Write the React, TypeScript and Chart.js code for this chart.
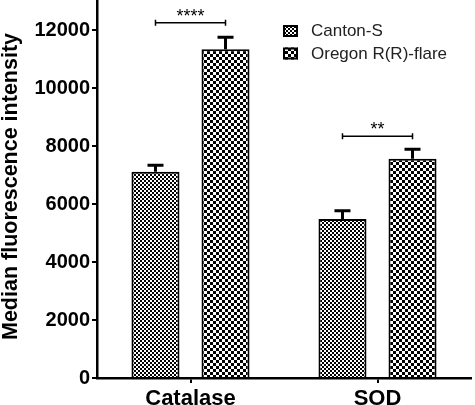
import React, { useEffect, useRef } from "react";
import { Chart, registerables } from "chart.js";

Chart.register(...registerables);

const categories = ["Catalase", "SOD"];
const seriesLabels = ["Canton-S", "Oregon R(R)-flare"];
const cantonValues = [7110, 5480];
const cantonErrors = [230, 290];
const oregonValues = [11340, 7560];
const oregonErrors = [410, 330];
const yTicks = [0, 2000, 4000, 6000, 8000, 10000, 12000];
const yTitle = "Median fluorescence intensity";
const sigLabels = ["****", "**"];
const sigLevels = [12250, 8340];

const FONT = "'Liberation Sans', Arial, Helvetica, sans-serif";

function makeChecker(cell: number): CanvasPattern | string {
  const c = document.createElement("canvas");
  c.width = cell * 2;
  c.height = cell * 2;
  const g = c.getContext("2d");
  if (!g) return "#888";
  g.fillStyle = "#ffffff";
  g.fillRect(0, 0, cell * 2, cell * 2);
  g.fillStyle = "#000000";
  g.fillRect(0, 0, cell, cell);
  g.fillRect(cell, cell, cell, cell);
  const p = g.createPattern(c, "repeat");
  return p || "#888";
}

export default function App() {
  const ref = useRef<HTMLCanvasElement | null>(null);

  useEffect(() => {
    const canvas = ref.current;
    if (!canvas) return;
    const fine = makeChecker(2);
    const coarse = makeChecker(3);
    const errors = [cantonErrors, oregonErrors];

    const overlay = {
      id: "overlay",
      afterDatasetsDraw(chart: any) {
        const ctx = chart.ctx;
        const y = chart.scales.y;
        ctx.save();
        // y title
        ctx.save();
        ctx.translate(11, 186.5);
        ctx.rotate(-Math.PI / 2);
        ctx.font = `bold 21.5px ${FONT}`;
        ctx.fillStyle = "#000";
        ctx.textAlign = "center";
        ctx.textBaseline = "middle";
        ctx.fillText(yTitle, 0, 0);
        ctx.restore();
        // error bars
        ctx.strokeStyle = "#000";
        ctx.lineWidth = 3;
        chart.data.datasets.forEach((ds: any, i: number) => {
          const meta = chart.getDatasetMeta(i);
          meta.data.forEach((bar: any, j: number) => {
            const v = ds.data[j];
            const top = y.getPixelForValue(v + errors[i][j]);
            ctx.beginPath();
            ctx.moveTo(bar.x, bar.y);
            ctx.lineTo(bar.x, top);
            ctx.moveTo(bar.x - 8, top);
            ctx.lineTo(bar.x + 8, top);
            ctx.stroke();
          });
        });
        // significance brackets
        ctx.lineWidth = 1.5;
        ctx.fillStyle = "#000";
        ctx.font = `18px ${FONT}`;
        ctx.textAlign = "center";
        ctx.textBaseline = "alphabetic";
        categories.forEach((_c, j) => {
          const a = chart.getDatasetMeta(0).data[j];
          const b = chart.getDatasetMeta(1).data[j];
          const py = y.getPixelForValue(sigLevels[j]);
          ctx.beginPath();
          ctx.moveTo(a.x, py);
          ctx.lineTo(b.x, py);
          ctx.moveTo(a.x, py - 3);
          ctx.lineTo(a.x, py + 3);
          ctx.moveTo(b.x, py - 3);
          ctx.lineTo(b.x, py + 3);
          ctx.stroke();
          ctx.fillText(sigLabels[j], (a.x + b.x) / 2, py - 1);
        });
        // legend
        const fills = [fine, coarse];
        ctx.font = `17px ${FONT}`;
        ctx.textAlign = "left";
        ctx.textBaseline = "middle";
        seriesLabels.forEach((lab, i) => {
          const by = 25 + i * 22.5;
          ctx.fillStyle = fills[i] as any;
          ctx.fillRect(283, by, 15, 12);
          ctx.lineWidth = 2;
          ctx.strokeStyle = "#000";
          ctx.strokeRect(284, by + 1, 13, 10);
          ctx.fillStyle = "#222";
          ctx.fillText(lab, 311, by + 6.5);
        });
        ctx.restore();
      },
    };

    const chart = new Chart(canvas, {
      type: "bar",
      data: {
        labels: categories,
        datasets: [
          {
            label: seriesLabels[0],
            data: cantonValues,
            backgroundColor: fine as any,
            borderColor: "#000",
            borderWidth: 2,
            borderSkipped: "bottom",
            categoryPercentage: 0.749,
            barPercentage: 0.686,
          },
          {
            label: seriesLabels[1],
            data: oregonValues,
            backgroundColor: coarse as any,
            borderColor: "#000",
            borderWidth: 2,
            borderSkipped: "bottom",
            categoryPercentage: 0.749,
            barPercentage: 0.686,
          },
        ],
      },
      options: {
        responsive: false,
        animation: false,
        layout: { padding: { top: 1, right: 4, left: 0, bottom: 0 } },
        plugins: {
          legend: { display: false },
          tooltip: { enabled: false },
        },
        scales: {
          x: {
            type: "category",
            offset: true,
            grid: {
              display: true,
              drawOnChartArea: false,
              drawTicks: true,
              tickLength: 5,
              offset: false,
              color: "#000",
              lineWidth: 2,
            },
            border: { display: true, color: "#000", width: 2.5 },
            ticks: {
              color: "#000",
              padding: 3,
              maxRotation: 0,
              font: { family: FONT, size: 22, weight: "bold" },
            },
            afterFit: (s: any) => {
              s.height = 27;
              s.paddingLeft = 0;
              s.paddingRight = 0;
            },
          },
          y: {
            min: 0,
            max: 13000,
            grid: {
              display: true,
              drawOnChartArea: false,
              drawTicks: true,
              tickLength: 5,
              color: "#000",
              lineWidth: 2,
            },
            border: { display: true, color: "#000", width: 2.5 },
            ticks: {
              stepSize: 2000,
              includeBounds: false,
              color: "#000",
              padding: 2,
              font: { family: FONT, size: 20, weight: "bold" },
              callback: (v: any) => String(v),
            } as any,
            afterBuildTicks: (s: any) => {
              s.ticks = yTicks.map((v) => ({ value: v }));
            },
            afterFit: (s: any) => {
              s.width = 97;
              s.paddingTop = 0;
              s.paddingBottom = 0;
            },
          },
        },
      },
      plugins: [overlay],
    });
    return () => chart.destroy();
  }, []);

  return (
    <div style={{ position: "fixed", left: 0, top: 0, width: 475, height: 405, background: "#fff" }}>
      <canvas ref={ref} width={475} height={405} style={{ display: "block" }} />
    </div>
  );
}
